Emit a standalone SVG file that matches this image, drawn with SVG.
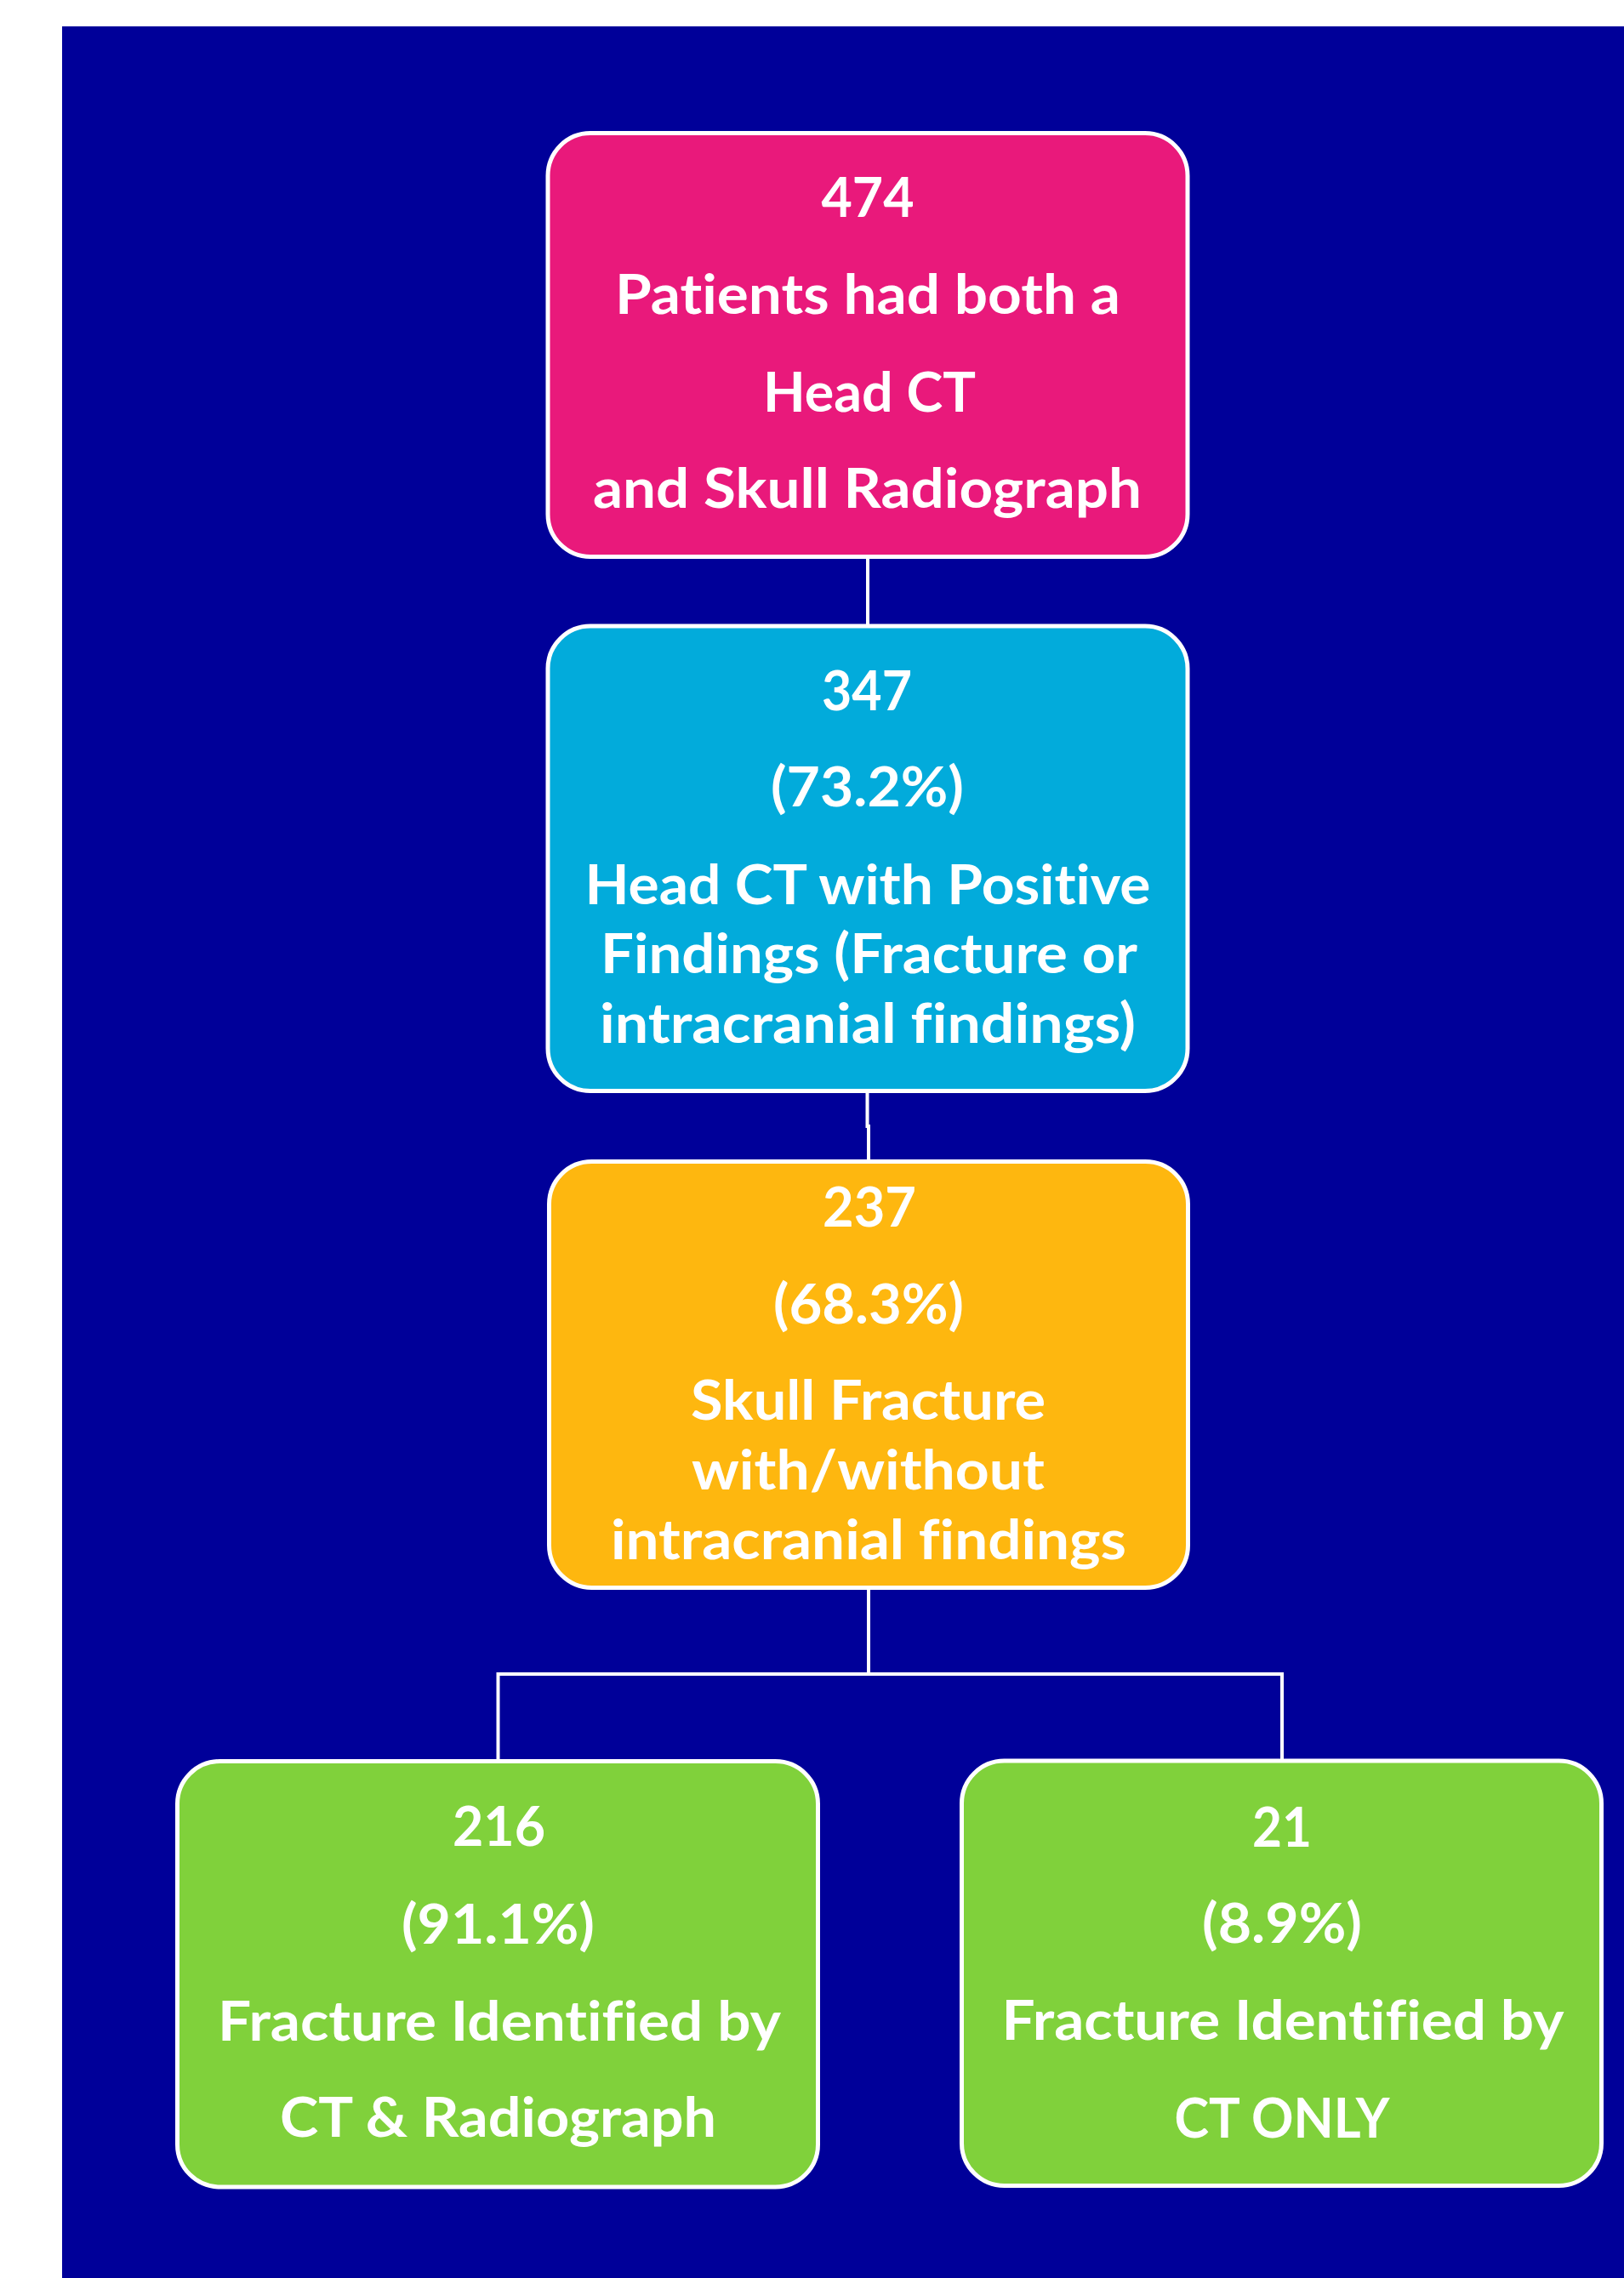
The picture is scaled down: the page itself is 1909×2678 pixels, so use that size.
<svg xmlns="http://www.w3.org/2000/svg" width="1909" height="2678" viewBox="0 0 1909 2678">
<style>
.box{stroke:#FFFFFF;stroke-width:5}
.t{font-family:Lato,"Open Sans","Liberation Sans",sans-serif;font-weight:bold;font-size:65px;fill:#FFFFFF;text-anchor:middle;font-variant-ligatures:none;font-feature-settings:"liga" 0,"dlig" 0}
.c{fill:none;stroke:#FFFFFF;stroke-width:4}
</style>
<rect x="0" y="0" width="1909" height="2678" fill="#FFFFFF"/>
<rect x="73" y="31" width="1836" height="2647" fill="#000099"/>
<g id="connectors">
<path class="c" d="M1020,657 V734"/>
<path class="c" d="M1019.5,1285 V1324 H1021 V1363"/>
<path class="c" d="M1021,1869 V1968 M585.5,2068 V1968 H1507 V2068"/>
</g>
<g id="n474">
<rect class="box" x="644" y="156.5" width="752" height="498" rx="50" fill="#E9197B"/>
<text class="t" x="1020" y="255" textLength="109" lengthAdjust="spacingAndGlyphs">474</text>
<text class="t" x="1020" y="368.5" textLength="594" lengthAdjust="spacingAndGlyphs">Patients had both a</text>
<text class="t" x="1022" y="483.5" textLength="250" lengthAdjust="spacingAndGlyphs">Head CT</text>
<text class="t" x="1019.5" y="597" textLength="645" lengthAdjust="spacingAndGlyphs">and Skull Radiograph</text>
</g>
<g id="n347">
<rect class="box" x="644" y="736" width="752" height="546.5" rx="50" fill="#02ABDB"/>
<text class="t" x="1019" y="835" textLength="106" lengthAdjust="spacingAndGlyphs">347</text>
<text class="t" x="1019.5" y="948" textLength="227" lengthAdjust="spacingAndGlyphs">(73.2%)</text>
<text class="t" x="1020" y="1062.5" textLength="665" lengthAdjust="spacingAndGlyphs">Head CT with Positive</text>
<text class="t" x="1021.5" y="1144" textLength="631" lengthAdjust="spacingAndGlyphs">Findings (Fracture or</text>
<text class="t" x="1020" y="1226" textLength="630" lengthAdjust="spacingAndGlyphs">intracranial findings)</text>
</g>
<g id="n237">
<rect class="box" x="645.5" y="1365.5" width="751" height="501" rx="50" fill="#FEB70F"/>
<text class="t" x="1022" y="1442" textLength="110" lengthAdjust="spacingAndGlyphs">237</text>
<text class="t" x="1021" y="1556" textLength="224" lengthAdjust="spacingAndGlyphs">(68.3%)</text>
<text class="t" x="1020.5" y="1669" textLength="417" lengthAdjust="spacingAndGlyphs">Skull Fracture</text>
<text class="t" x="1020.5" y="1751" textLength="415" lengthAdjust="spacingAndGlyphs">with/without</text>
<text class="t" x="1021" y="1833" textLength="606" lengthAdjust="spacingAndGlyphs">intracranial findings</text>
</g>
<g id="n216">
<rect class="box" x="208.5" y="2070.5" width="753" height="500.5" rx="50" fill="#80D13B"/>
<text class="t" x="586.5" y="2170" textLength="109" lengthAdjust="spacingAndGlyphs">216</text>
<text class="t" x="585.5" y="2284.5" textLength="227" lengthAdjust="spacingAndGlyphs">(91.1%)</text>
<text class="t" x="587" y="2398.5" textLength="662" lengthAdjust="spacingAndGlyphs">Fracture Identified by</text>
<text class="t" x="585.5" y="2512" textLength="513" lengthAdjust="spacingAndGlyphs">CT &amp; Radiograph</text>
</g>
<g id="n21">
<rect class="box" x="1130.5" y="2070" width="752" height="499.5" rx="50" fill="#80D13B"/>
<text class="t" x="1507" y="2170.5" textLength="70" lengthAdjust="spacingAndGlyphs">21</text>
<text class="t" x="1507" y="2284" textLength="188" lengthAdjust="spacingAndGlyphs">(8.9%)</text>
<text class="t" x="1508" y="2398" textLength="661" lengthAdjust="spacingAndGlyphs">Fracture Identified by</text>
<text class="t" x="1507" y="2512.5" textLength="253" lengthAdjust="spacingAndGlyphs">CT ONLY</text>
</g>
</svg>
